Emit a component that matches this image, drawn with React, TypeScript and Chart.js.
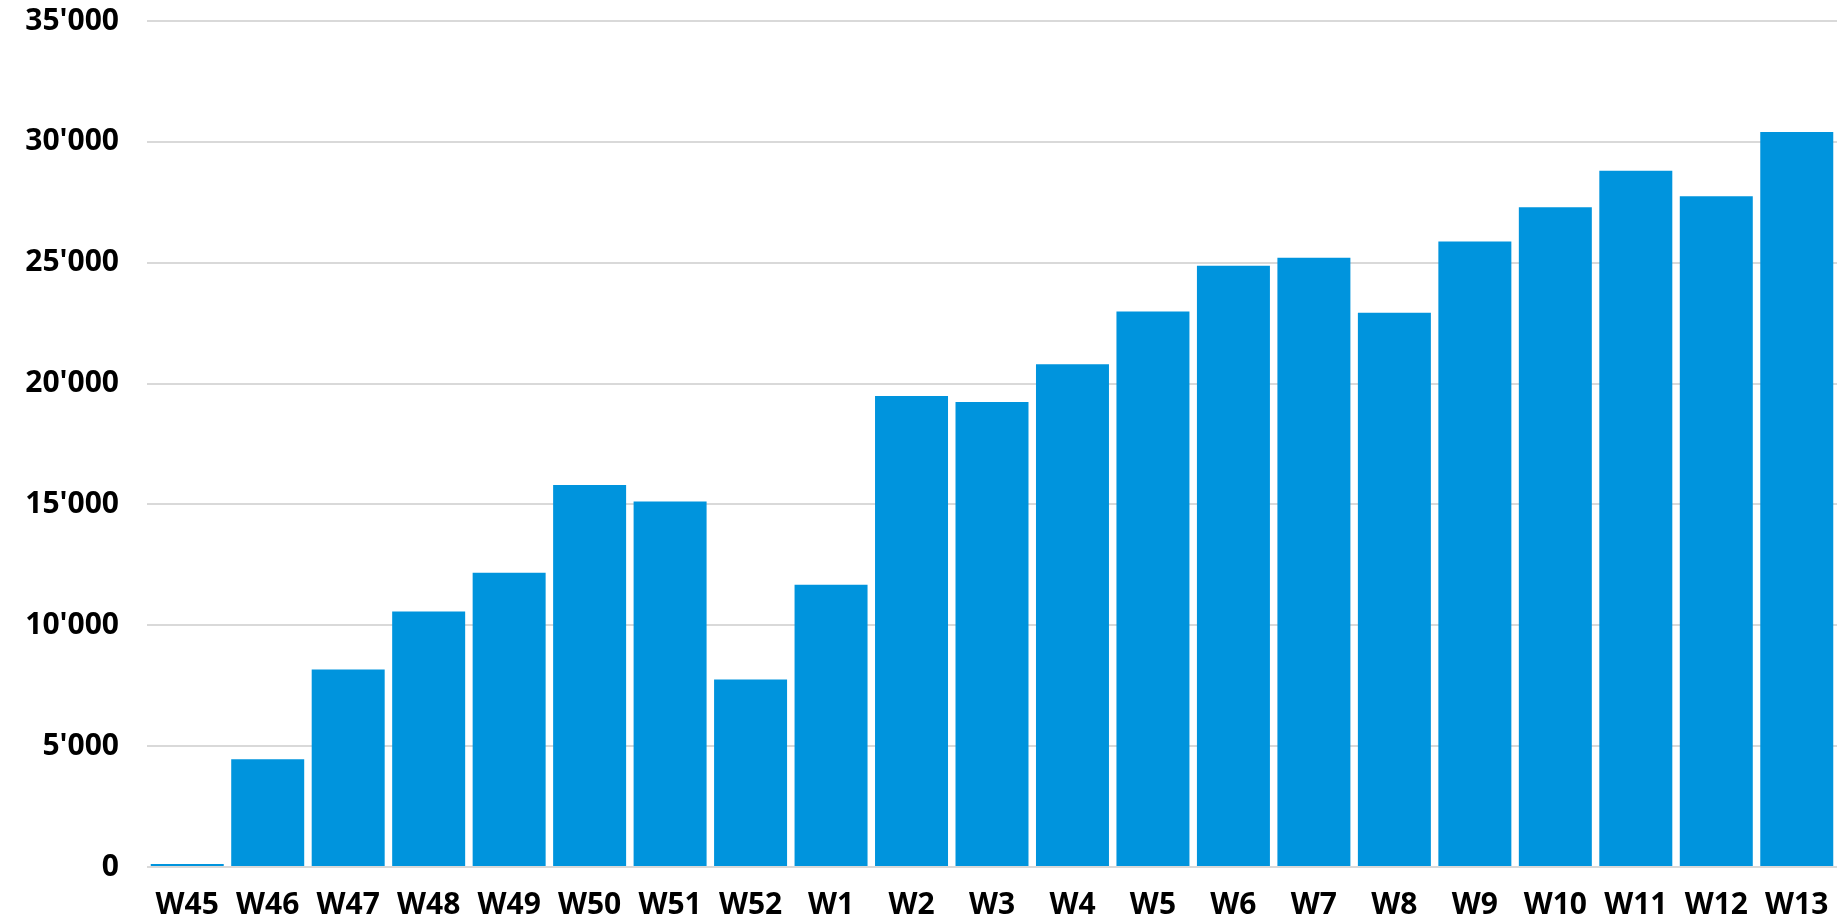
import React, { useEffect, useRef } from "react";
import { Chart, registerables } from "chart.js";

Chart.register(...registerables);

const weeks = ["W45", "W46", "W47", "W48", "W49", "W50", "W51", "W52", "W1", "W2", "W3", "W4", "W5", "W6", "W7", "W8", "W9", "W10", "W11", "W12", "W13"];
const values = [120, 4460, 8170, 10570, 12170, 15800, 15120, 7760, 11680, 19490, 19240, 20800, 22980, 24870, 25210, 22930, 25880, 27290, 28800, 27750, 30410];
const yTicks = [0, 5000, 10000, 15000, 20000, 25000, 30000, 35000];

const fmt = (v: number) => {
  const s = Math.round(v).toString();
  return s.replace(/\B(?=(\d{3})+(?!\d))/g, "'");
};

export default function App() {
  const ref = useRef<HTMLCanvasElement | null>(null);
  useEffect(() => {
    if (!ref.current) return;
    const font = { family: "'Open Sans'", size: 30, weight: "bold" as const };
    const chart = new Chart(ref.current, {
      type: "bar",
      data: {
        labels: weeks,
        datasets: [
          {
            data: values,
            backgroundColor: "#0094dd",
            borderWidth: 0,
            barPercentage: 0.907,
            categoryPercentage: 1,
          },
        ],
      },
      options: {
        animation: false,
        responsive: false,
        maintainAspectRatio: false,
        layout: { padding: { top: 21, right: 0, bottom: 0, left: 0 } },
        plugins: { legend: { display: false }, tooltip: { enabled: false } },
        scales: {
          x: {
            grid: { display: false, drawTicks: false },
            border: { display: false },
            ticks: { color: "#000", font, padding: 20, maxRotation: 0, autoSkip: false },
            afterFit: (axis: any) => {
              axis.height = 55;
              axis.paddingLeft = 0;
              axis.paddingRight = 0;
            },
          },
          y: {
            min: 0,
            max: 35000,
            afterBuildTicks: (axis: any) => {
              axis.ticks = yTicks.map((v) => ({ value: v }));
            },
            grid: { color: "#d9d9d9", lineWidth: 2, drawTicks: false },
            border: { display: false },
            ticks: {
              color: "#000",
              font,
              padding: 28,
              callback: (v: any) => fmt(Number(v)),
            },
            afterFit: (axis: any) => {
              axis.width = 147;
              axis.paddingTop = 0;
              axis.paddingBottom = 0;
            },
          },
        },
      },
    });
    return () => chart.destroy();
  }, []);
  return (
    <div style={{ position: "fixed", left: 0, top: 0, width: 1837, height: 922, background: "#fff" }}>
      <canvas ref={ref} width={1837} height={922} style={{ display: "block" }} />
    </div>
  );
}
